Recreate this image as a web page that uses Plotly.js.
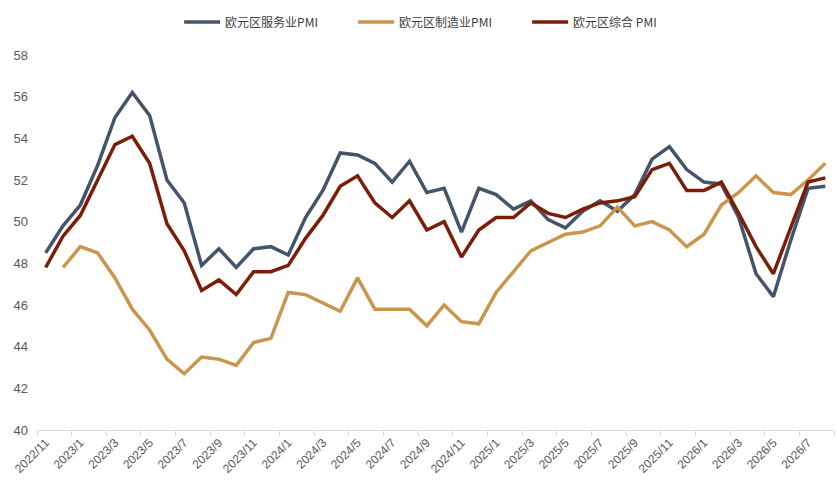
<!DOCTYPE html>
<html>
<head>
<meta charset="utf-8">
<script src="https://cdn.plot.ly/plotly-3.0.1.min.js"></script>
<style>
  html, body { margin: 0; padding: 0; background: #fff; }
  #pmi { width: 837px; height: 488px; }
</style>
</head>
<body>
<div id="pmi"></div>
<script>
/***** 欧元区 PMI *****/
var months = [
  '2022/11', '2022/12',
  '2023/1', '2023/2', '2023/3', '2023/4', '2023/5', '2023/6', '2023/7', '2023/8', '2023/9', '2023/10', '2023/11', '2023/12',
  '2024/1', '2024/2', '2024/3', '2024/4', '2024/5', '2024/6', '2024/7', '2024/8', '2024/9', '2024/10', '2024/11', '2024/12',
  '2025/1', '2025/2', '2025/3', '2025/4', '2025/5', '2025/6', '2025/7', '2025/8', '2025/9', '2025/10', '2025/11', '2025/12',
  '2026/1', '2026/2', '2026/3', '2026/4', '2026/5', '2026/6', '2026/7', '2026/8'
];

var services = [48.5, 49.8, 50.8, 52.7, 55.0, 56.2, 55.1, 52.0, 50.9, 47.9, 48.7, 47.8, 48.7, 48.8,
  48.4, 50.2, 51.5, 53.3, 53.2, 52.8, 51.9, 52.9, 51.4, 51.6, 49.5, 51.6,
  51.3, 50.6, 51.0, 50.1, 49.7, 50.5, 51.0, 50.5, 51.3, 53.0, 53.6, 52.5,
  51.9, 51.8, 50.2, 47.5, 46.4, 49.1, 51.6, 51.7];

var manufacturing = [null, 47.8, 48.8, 48.5, 47.3, 45.8, 44.8, 43.4, 42.7, 43.5, 43.4, 43.1, 44.2, 44.4,
  46.6, 46.5, 46.1, 45.7, 47.3, 45.8, 45.8, 45.8, 45.0, 46.0, 45.2, 45.1,
  46.6, 47.6, 48.6, 49.0, 49.4, 49.5, 49.8, 50.7, 49.8, 50.0, 49.6, 48.8,
  49.4, 50.8, 51.4, 52.2, 51.4, 51.3, 52.0, 52.8];

var composite = [47.8, 49.3, 50.3, 52.0, 53.7, 54.1, 52.8, 49.9, 48.6, 46.7, 47.2, 46.5, 47.6, 47.6,
  47.9, 49.2, 50.3, 51.7, 52.2, 50.9, 50.2, 51.0, 49.6, 50.0, 48.3, 49.6,
  50.2, 50.2, 50.9, 50.4, 50.2, 50.6, 50.9, 51.0, 51.2, 52.5, 52.8, 51.5,
  51.5, 51.9, 50.4, 48.8, 47.5, 49.7, 51.9, 52.1];

var yTicks = [40, 42, 44, 46, 48, 50, 52, 54, 56, 58];

var pmi1 = {
  x: months,
  y: services,
  type: 'scatter',
  mode: 'lines',
  name: '欧元区服务业PMI',
  line: { color: '#44546a', width: 3.5 }
};

var pmi2 = {
  x: months,
  y: manufacturing,
  type: 'scatter',
  mode: 'lines',
  name: '欧元区制造业PMI',
  line: { color: '#c9964c', width: 3.5 }
};

var pmi3 = {
  x: months,
  y: composite,
  type: 'scatter',
  mode: 'lines',
  name: '欧元区综合 PMI',
  line: { color: '#7b1e08', width: 3.5 }
};

var layout = {
  width: 837,
  height: 488,
  margin: { l: 37, r: 3, t: 55, b: 58 },
  paper_bgcolor: '#fff',
  plot_bgcolor: '#fff',
  font: { family: 'Liberation Sans, Arial, sans-serif', color: '#595959', size: 12 },
  showlegend: true,
  legend: {
    orientation: 'h',
    xref: 'container',
    yref: 'container',
    x: 0.214,
    xanchor: 'left',
    y: 0.955,
    yanchor: 'middle',
    font: { family: 'Noto Sans CJK SC, sans-serif', size: 12, color: '#404040' },
    itemwidth: 36,
    entrywidth: 123,
    entrywidthmode: 'pixels'
  },
  xaxis: {
    type: 'category',
    range: [-0.5, 45.5],
    tickmode: 'linear',
    tick0: 0,
    dtick: 2,
    tickson: 'boundaries',
    ticks: 'outside',
    ticklen: 5,
    tickcolor: '#d9d9d9',
    tickangle: -45,
    tickfont: { size: 12, color: '#595959' },
    showline: true,
    linecolor: '#d9d9d9',
    linewidth: 1,
    showgrid: false,
    zeroline: false
  },
  yaxis: {
    range: [40, 58],
    tickvals: yTicks,
    ticktext: yTicks.map(String),
    tickfont: { size: 13, color: '#595959' },
    ticks: '',
    ticklabelstandoff: 8,
    showline: false,
    showgrid: false,
    zeroline: false
  }
};

var config = { staticPlot: true, displayModeBar: false };

var data = [pmi1, pmi2, pmi3];
Plotly.newPlot('pmi', data, layout, config);
</script>
</body>
</html>
